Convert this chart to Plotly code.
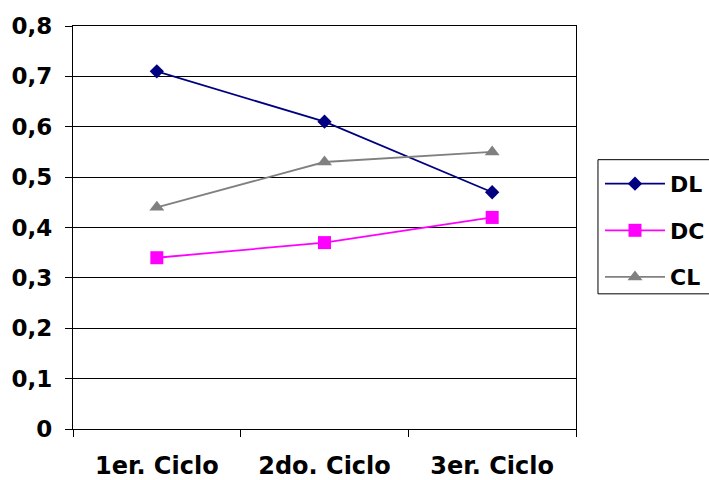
import plotly.graph_objects as go

# Categories and series values
ciclos = ["1er. Ciclo", "2do. Ciclo", "3er. Ciclo"]
dl = [0.71, 0.61, 0.47]
dc = [0.34, 0.37, 0.42]
cl = [0.44, 0.53, 0.55]

# Y tick values and labels (comma decimal)
y_ticks = [0, 0.1, 0.2, 0.3, 0.4, 0.5, 0.6, 0.7, 0.8]
y_labels = ["0", "0,1", "0,2", "0,3", "0,4", "0,5", "0,6", "0,7", "0,8"]

FONT = "DejaVu Sans"

series = [
    ("DL", dl, "#000080", dict(symbol="diamond", size=11)),
    ("DC", dc, "#FF00FF", dict(symbol="square", size=13)),
    ("CL", cl, "#808080", dict(symbol="triangle-up", size=13)),
]

fig = go.Figure()
for name, vals, color, mk in series:
    fig.add_trace(go.Scatter(
        x=ciclos, y=vals, name=name, mode="lines+markers",
        line=dict(color=color, width=1.8),
        marker=dict(color=color, line=dict(width=0), **mk),
        legendgroup=name,
    ))

# Legend frame, running off the right edge of the page
LEG_X0, LEG_X1, LEG_Y0, LEG_Y1 = 1.0437, 1.3, 0.3354, 0.6683
fig.add_shape(
    type="rect", xref="paper", yref="paper",
    x0=LEG_X0, x1=LEG_X1, y0=LEG_Y0, y1=LEG_Y1,
    line=dict(color="black", width=1), fillcolor="white", layer="above",
)

fig.update_layout(
    width=709, height=480,
    margin=dict(l=73, r=133, t=26, b=51, autoexpand=False),
    paper_bgcolor="white", plot_bgcolor="white",
    font=dict(family=FONT, color="black"),
    showlegend=True,
    legend=dict(
        x=LEG_X0 + 0.004, y=LEG_Y1 - 0.008, xanchor="left", yanchor="top",
        bgcolor="rgba(0,0,0,0)", borderwidth=0,
        font=dict(family=FONT, size=22, weight="bold", color="black"),
        itemwidth=60, tracegroupgap=15,
    ),
)

fig.update_xaxes(
    type="category", range=[-0.5, 2.5],
    tickson="boundaries", ticks="outside", ticklen=7, tickwidth=1.3, tickcolor="black",
    showline=True, linecolor="black", linewidth=1.3, mirror=True,
    showgrid=False, zeroline=False,
    tickfont=dict(family=FONT, size=24, weight="bold", color="black"),
    ticklabelstandoff=15,
)
fig.update_yaxes(
    range=[0, 0.8], tickvals=y_ticks, ticktext=y_labels,
    ticks="outside", ticklen=7, tickwidth=1.3, tickcolor="black",
    showline=True, linecolor="black", linewidth=1.3, mirror=True,
    showgrid=True, gridcolor="black", gridwidth=1.3, zeroline=False,
    tickfont=dict(family=FONT, size=23, weight="bold", color="black"),
    ticklabelstandoff=8,
)

fig.write_html("out.html")
